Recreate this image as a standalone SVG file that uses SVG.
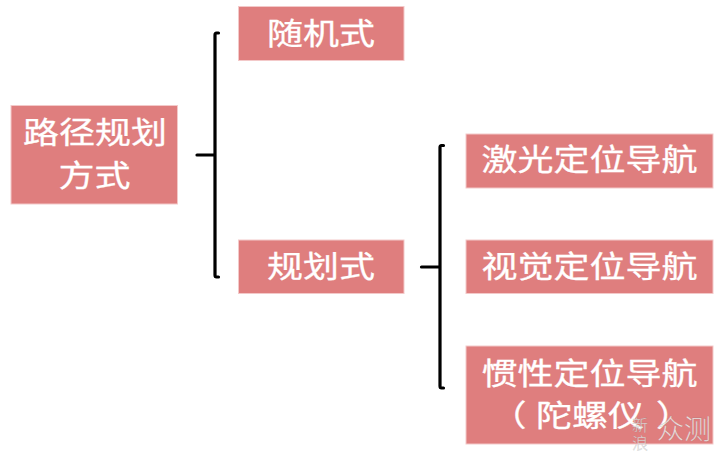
<svg xmlns="http://www.w3.org/2000/svg" width="720" height="460" viewBox="0 0 720 460">
<style>
.box{fill:#df7e7e;stroke:#f3c9c9;stroke-width:1}
.t{font-family:"Noto Sans CJK SC","Noto Sans",sans-serif;font-size:30px;font-weight:400;fill:#fff;stroke:#fff;stroke-width:.3}
.c{fill:none;stroke:#000;stroke-width:3.2;stroke-linecap:round;stroke-linejoin:round}
.w{font-family:"Noto Sans CJK SC",sans-serif;fill:#fff;fill-opacity:.8;stroke:#777;stroke-opacity:.3;stroke-width:.6;text-anchor:middle;font-weight:300}
</style>
<rect width="720" height="460" fill="#fff"/>
<g id="connectors">
<path class="c" d="M218.500 33H216.500Q215 33 215 35V275Q215 277 216.500 277H218.500M197 155H215"/>
<path class="c" d="M443.500 145.500H441.500Q440 145.500 440 147.500V386Q440 388 441.500 388H443.500M421.500 267H440"/>
</g>
<g id="n-root"><rect class="box" x="11" y="105.500" width="166.500" height="98.500"/><text class="t" x="23" y="142.500" textLength="144" lengthAdjust="spacingAndGlyphs">路径规划</text><text class="t" x="58.500" y="185.500" textLength="72" lengthAdjust="spacingAndGlyphs">方式</text></g>
<g id="n-random"><rect class="box" x="238.500" y="6.500" width="165.500" height="54"/><text class="t" x="267" y="43.500" textLength="108" lengthAdjust="spacingAndGlyphs">随机式</text></g>
<g id="n-planned"><rect class="box" x="238.500" y="240" width="165.500" height="53.500"/><text class="t" x="267" y="276.500" textLength="108" lengthAdjust="spacingAndGlyphs">规划式</text></g>
<g id="n-laser"><rect class="box" x="466" y="134" width="247" height="54"/><text class="t" x="481.500" y="170" textLength="216" lengthAdjust="spacingAndGlyphs">激光定位导航</text></g>
<g id="n-vision"><rect class="box" x="466" y="240" width="247" height="53.500"/><text class="t" x="481.500" y="276.500" textLength="216" lengthAdjust="spacingAndGlyphs">视觉定位导航</text></g>
<g id="n-inertial"><rect class="box" x="466" y="346" width="247" height="98"/><text class="t" x="481.500" y="383.500" textLength="216" lengthAdjust="spacingAndGlyphs">惯性定位导航</text><text class="t" transform="translate(500 425.500) scale(1.2 1)" x="-8 30 60 90 130">（陀螺仪）</text></g>
<g id="watermark"><text class="w" x="640" y="431" font-size="16">新</text><text class="w" x="640" y="449" font-size="16">浪</text><text class="w" x="684" y="439" font-size="27">众测</text></g>
</svg>
